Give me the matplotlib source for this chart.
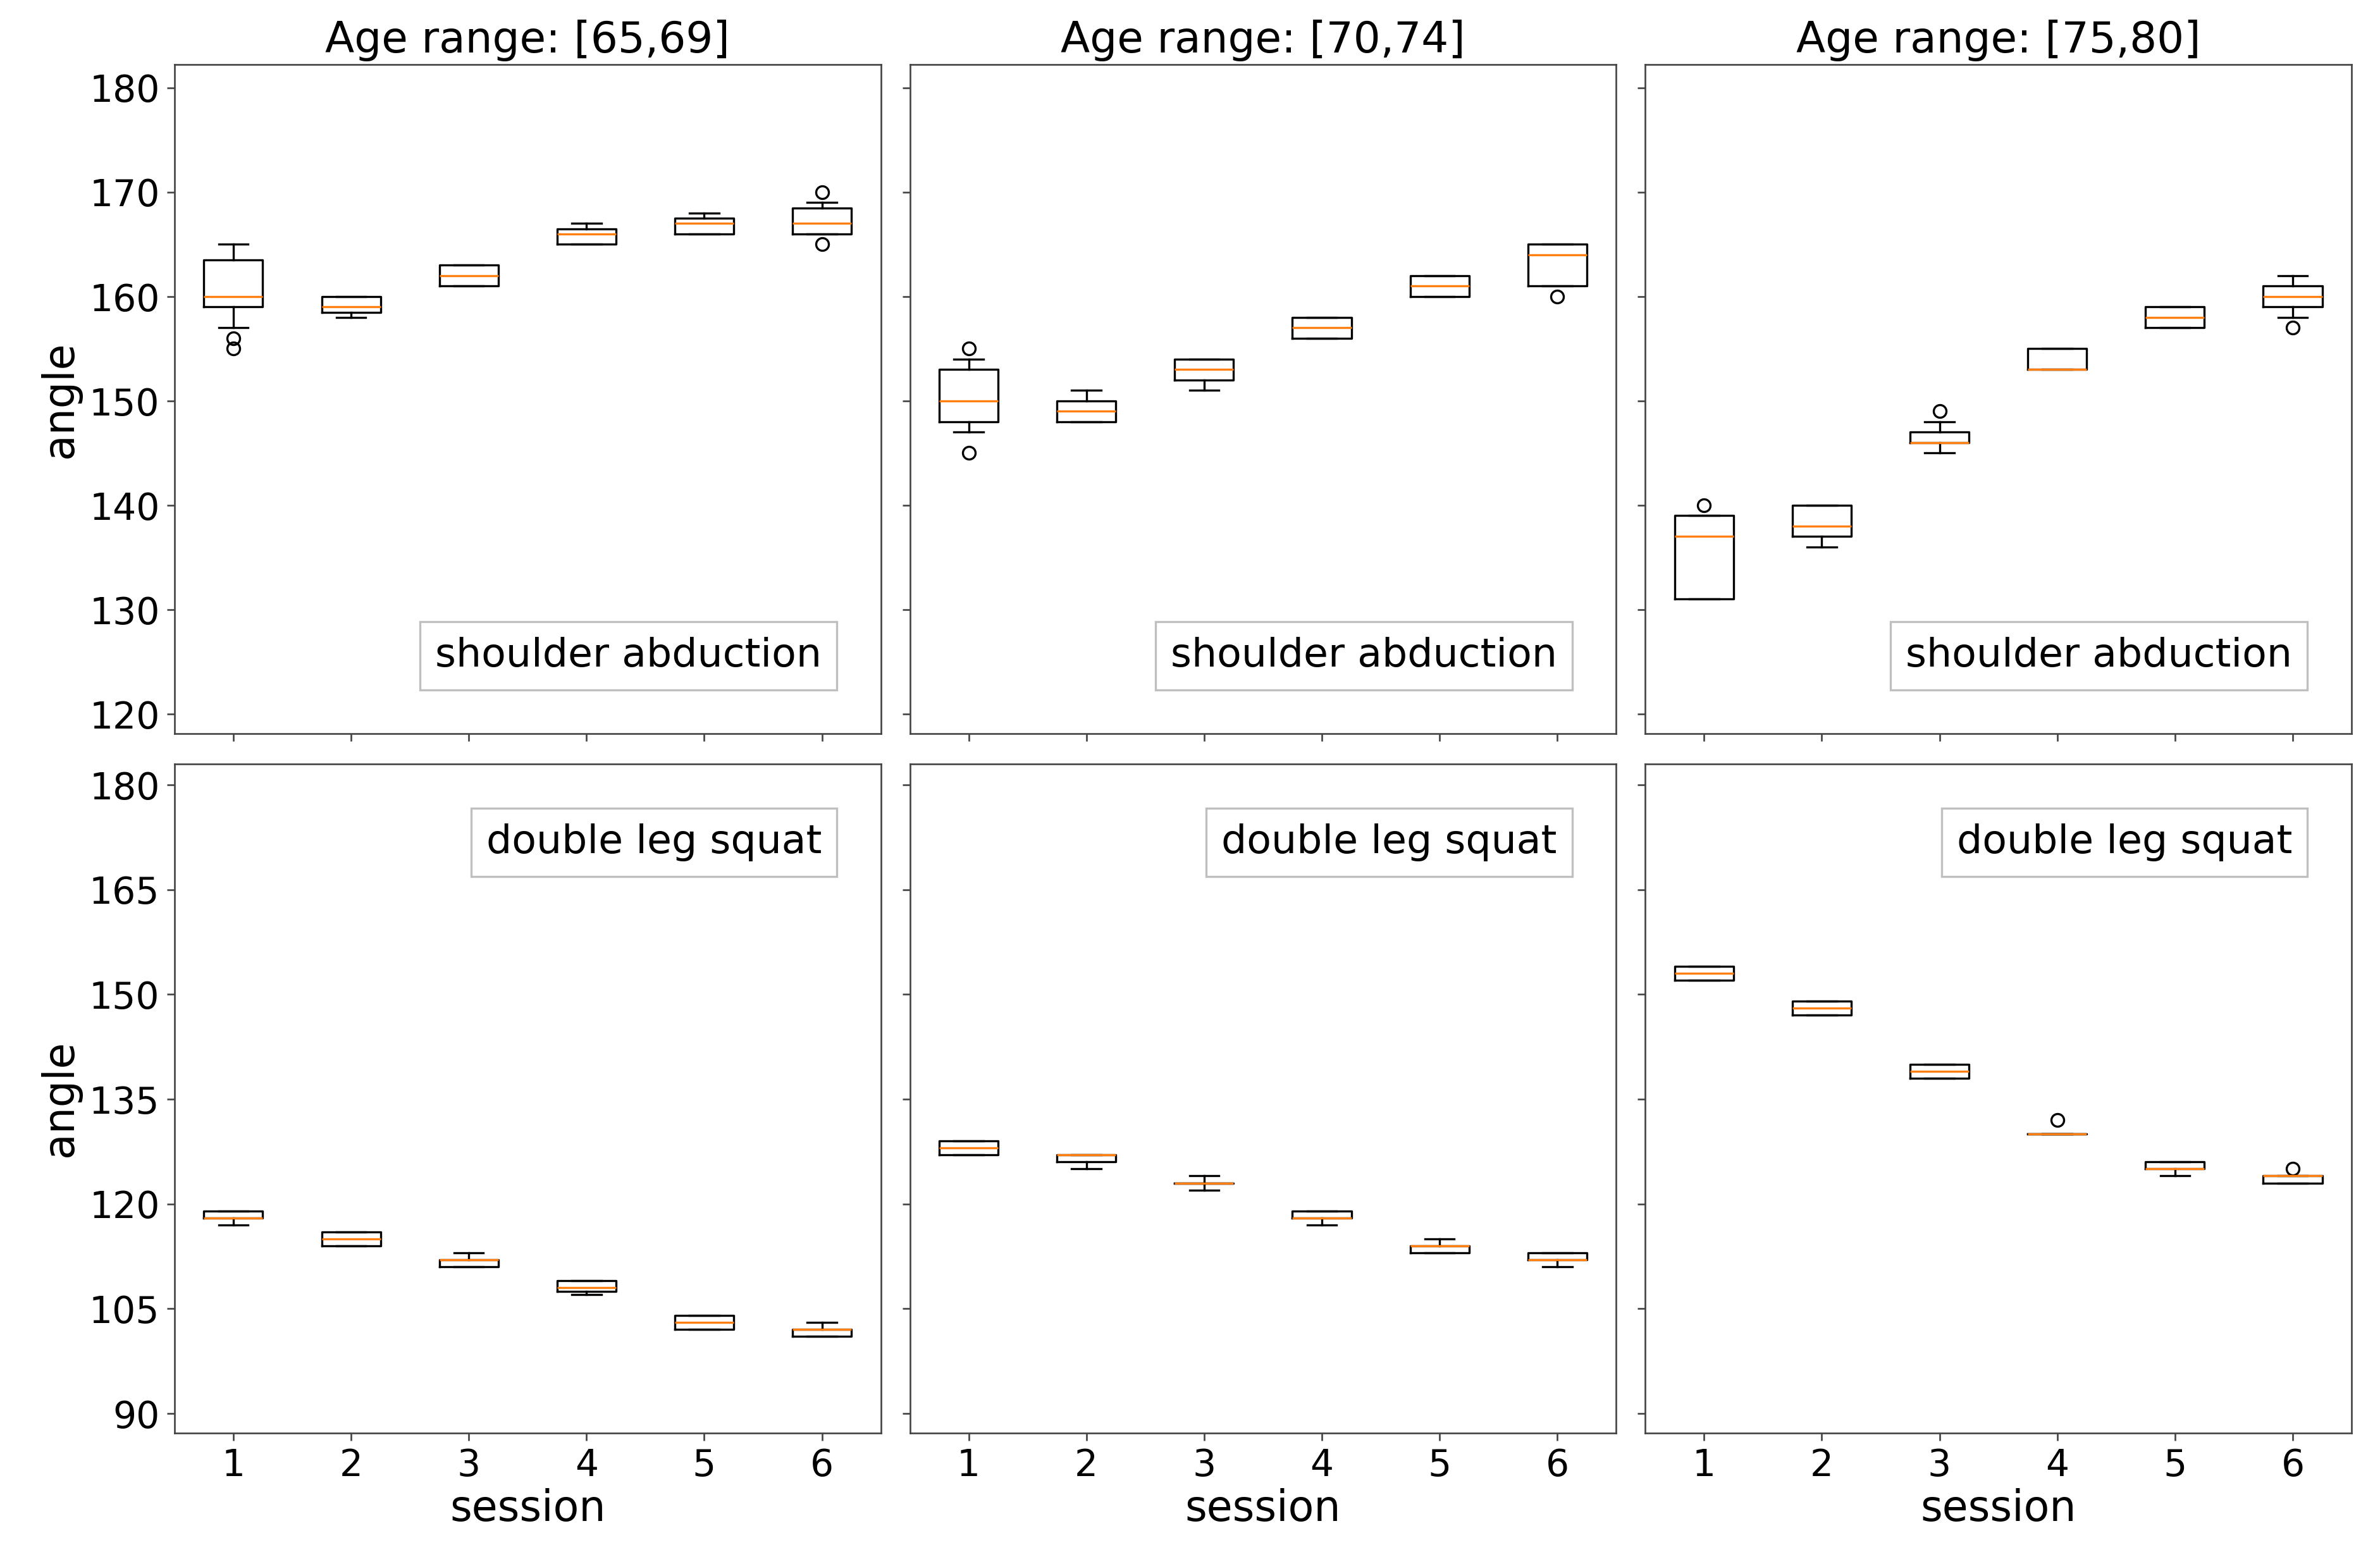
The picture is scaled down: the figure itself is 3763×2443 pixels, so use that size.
import matplotlib
matplotlib.use("Agg")
import matplotlib.pyplot as plt
from matplotlib.lines import Line2D

# ----- Data (box statistics) -----
sessions = [1, 2, 3, 4, 5, 6]
age_ranges = ["[65,69]", "[70,74]", "[75,80]"]
exercises = ["shoulder abduction", "double leg squat"]

# shoulder abduction
sa_65_med = [160, 159, 162, 166, 167, 167]
sa_65_q1 = [159, 158.5, 161, 165, 166, 166]
sa_65_q3 = [163.5, 160, 163, 166.5, 167.5, 168.5]
sa_65_lo = [157, 158, 161, 165, 166, 166]
sa_65_hi = [165, 160, 163, 167, 168, 169]
sa_65_fl = [[156, 155], [], [], [], [], [170, 165]]

sa_70_med = [150, 149, 153, 157, 161, 164]
sa_70_q1 = [148, 148, 152, 156, 160, 161]
sa_70_q3 = [153, 150, 154, 158, 162, 165]
sa_70_lo = [147, 148, 151, 156, 160, 161]
sa_70_hi = [154, 151, 154, 158, 162, 165]
sa_70_fl = [[155, 145], [], [], [], [], [160]]

sa_75_med = [137, 138, 146, 153, 158, 160]
sa_75_q1 = [131, 137, 146, 153, 157, 159]
sa_75_q3 = [139, 140, 147, 155, 159, 161]
sa_75_lo = [131, 136, 145, 153, 157, 158]
sa_75_hi = [139, 140, 148, 155, 159, 162]
sa_75_fl = [[140], [], [149], [], [], [157]]

# double leg squat
dls_65_med = [118, 115, 112, 108, 103, 102]
dls_65_q1 = [118, 114, 111, 107.5, 102, 101]
dls_65_q3 = [119, 116, 112, 109, 104, 102]
dls_65_lo = [117, 114, 111, 107, 102, 101]
dls_65_hi = [119, 116, 113, 109, 104, 103]
dls_65_fl = [[], [], [], [], [], []]

dls_70_med = [128, 127, 123, 118, 114, 112]
dls_70_q1 = [127, 126, 123, 118, 113, 112]
dls_70_q3 = [129, 127, 123, 119, 114, 113]
dls_70_lo = [127, 125, 122, 117, 113, 111]
dls_70_hi = [129, 127, 124, 119, 115, 113]
dls_70_fl = [[], [], [], [], [], []]

dls_75_med = [153, 148, 139, 130, 125, 124]
dls_75_q1 = [152, 147, 138, 130, 125, 123]
dls_75_q3 = [154, 149, 140, 130, 126, 124]
dls_75_lo = [152, 147, 138, 130, 124, 123]
dls_75_hi = [154, 149, 140, 130, 126, 124]
dls_75_fl = [[], [], [], [132], [], [125]]

sa_ticks = [120, 130, 140, 150, 160, 170, 180]
dls_ticks = [90, 105, 120, 135, 150, 165, 180]


def make_stats(med, q1, q3, lo, hi, fl):
    return [
        {"med": m, "q1": a, "q3": b, "whislo": l, "whishi": h, "fliers": f}
        for m, a, b, l, h, f in zip(med, q1, q3, lo, hi, fl)
    ]


panels = [
    [
        make_stats(sa_65_med, sa_65_q1, sa_65_q3, sa_65_lo, sa_65_hi, sa_65_fl),
        make_stats(sa_70_med, sa_70_q1, sa_70_q3, sa_70_lo, sa_70_hi, sa_70_fl),
        make_stats(sa_75_med, sa_75_q1, sa_75_q3, sa_75_lo, sa_75_hi, sa_75_fl),
    ],
    [
        make_stats(dls_65_med, dls_65_q1, dls_65_q3, dls_65_lo, dls_65_hi, dls_65_fl),
        make_stats(dls_70_med, dls_70_q1, dls_70_q3, dls_70_lo, dls_70_hi, dls_70_fl),
        make_stats(dls_75_med, dls_75_q1, dls_75_q3, dls_75_lo, dls_75_hi, dls_75_fl),
    ],
]

# ----- Plot -----
plt.rcParams["font.family"] = ["DejaVu Sans"]

fig, axes = plt.subplots(2, 3, figsize=(15.68, 10.18), dpi=240,
                         sharex=True, sharey="row")
fig.subplots_adjust(left=0.0733, right=0.988, top=0.958, bottom=0.0725,
                    wspace=0.041, hspace=0.045)

spine_col = "#444444"
for r in range(2):
    for c in range(3):
        ax = axes[r, c]
        ax.bxp(panels[r][c], positions=sessions, widths=0.5)
        ax.set_xlim(0.5, 6.5)
        for s in ax.spines.values():
            s.set_color(spine_col)
        ax.tick_params(labelsize=17.5, color=spine_col)
        loc = "lower right" if r == 0 else "upper right"
        h = Line2D([], [], linestyle="none")
        leg = ax.legend([h], [exercises[r]], loc=loc, fontsize=19,
                        handlelength=0, handletextpad=0, fancybox=False,
                        borderaxespad=1.1, borderpad=0.38)
        leg.get_frame().set_edgecolor("#b0b0b0")
        if r == 0:
            ax.set_title("Age range: " + age_ranges[c], fontsize=20.3)
        else:
            ax.set_xlabel("session", fontsize=20, labelpad=2)
            ax.set_xticks(sessions)
            ax.set_xticklabels([str(s) for s in sessions])
        if c == 0:
            ax.set_ylabel("angle", fontsize=20)

axes[0, 0].set_ylim(118.1, 182.2)
axes[0, 0].set_yticks(sa_ticks)
axes[1, 0].set_ylim(87.2, 183.0)
axes[1, 0].set_yticks(dls_ticks)

fig.savefig("out.png", dpi=240)
